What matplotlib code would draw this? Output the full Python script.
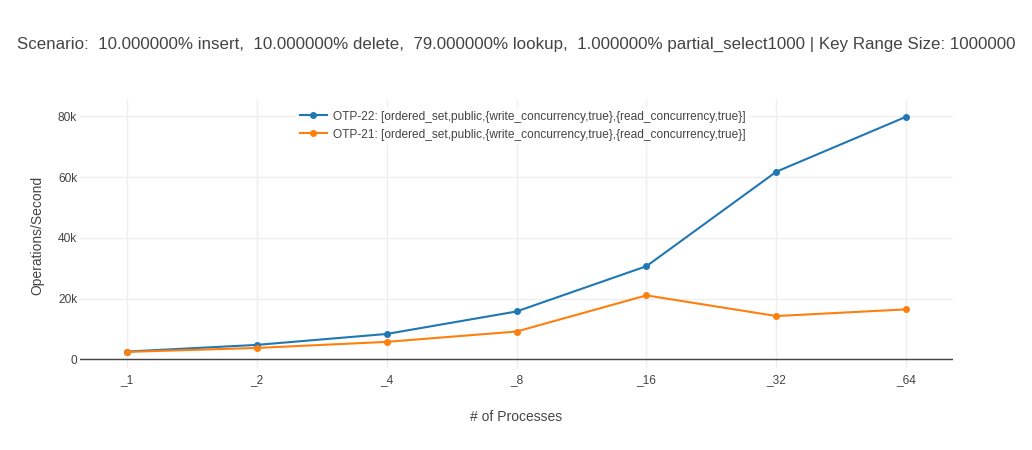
import matplotlib.pyplot as plt

# data
processes = ["_1", "_2", "_4", "_8", "_16", "_32", "_64"]
otp22 = [2600, 4800, 8400, 15800, 30700, 61800, 79900]
otp21 = [2500, 3800, 5800, 9200, 21100, 14300, 16500]
labels = [
    "OTP-22: [ordered_set,public,{write_concurrency,true},{read_concurrency,true}]",
    "OTP-21: [ordered_set,public,{write_concurrency,true},{read_concurrency,true}]",
]
yticks = [0, 20000, 40000, 60000, 80000]
ytick_labels = ["0", "20k", "40k", "60k", "80k"]

plt.rcParams["font.family"] = ["Liberation Sans", "DejaVu Sans"]
TXT = "#444444"

fig = plt.figure(figsize=(10.32, 4.5), dpi=100)
W, H = 1032, 450
ax = fig.add_axes([80 / W, (H - 368) / H, (953 - 80) / W, (368 - 100) / H])

x = list(range(len(processes)))
ax.plot(x, otp22, color="#1f77b4", lw=1.5, marker="o", ms=4, label=labels[0], zorder=3)
ax.plot(x, otp21, color="#ff7f0e", lw=1.5, marker="o", ms=4, label=labels[1], zorder=3)

ax.set_xlim(-0.36, 6.36)
ax.set_ylim(-2800, 85400)
ax.set_xticks(x)
ax.set_xticklabels(processes)
ax.set_yticks(yticks)
ax.set_yticklabels(ytick_labels)
ax.tick_params(length=0, labelsize=8.6, colors=TXT)
ax.tick_params(axis="x", pad=4.5)
ax.tick_params(axis="y", pad=2)
ax.grid(True, color="#eeeeee", lw=1)
ax.set_axisbelow(True)
ax.axhline(0, color=TXT, lw=1, zorder=2)
for s in ax.spines.values():
    s.set_visible(False)

fig.text(37 / W, 1 - 235 / H, "Operations/Second", rotation=90, ha="center", va="center",
         fontsize=10, color=TXT)
fig.text(516 / W, 1 - 417 / H, "# of Processes", ha="center", va="center", fontsize=10, color=TXT)
fig.text(516 / W, 1 - 44 / H,
         "Scenario:  10.000000% insert,  10.000000% delete,  79.000000% lookup,  "
         "1.000000% partial_select1000 | Key Range Size: 1000000",
         ha="center", va="center", fontsize=12.2, color=TXT)

leg = fig.legend(loc="upper left", bbox_to_anchor=(296 / W, 1 - 107 / H), frameon=True,
                 fontsize=8.6, handlelength=2.3, handletextpad=0.5, labelspacing=0.5,
                 borderpad=0.3, borderaxespad=0, fancybox=False)
leg.get_frame().set_facecolor("white")
leg.get_frame().set_edgecolor("white")
for t in leg.get_texts():
    t.set_color(TXT)

fig.savefig("out.png", dpi=100)
